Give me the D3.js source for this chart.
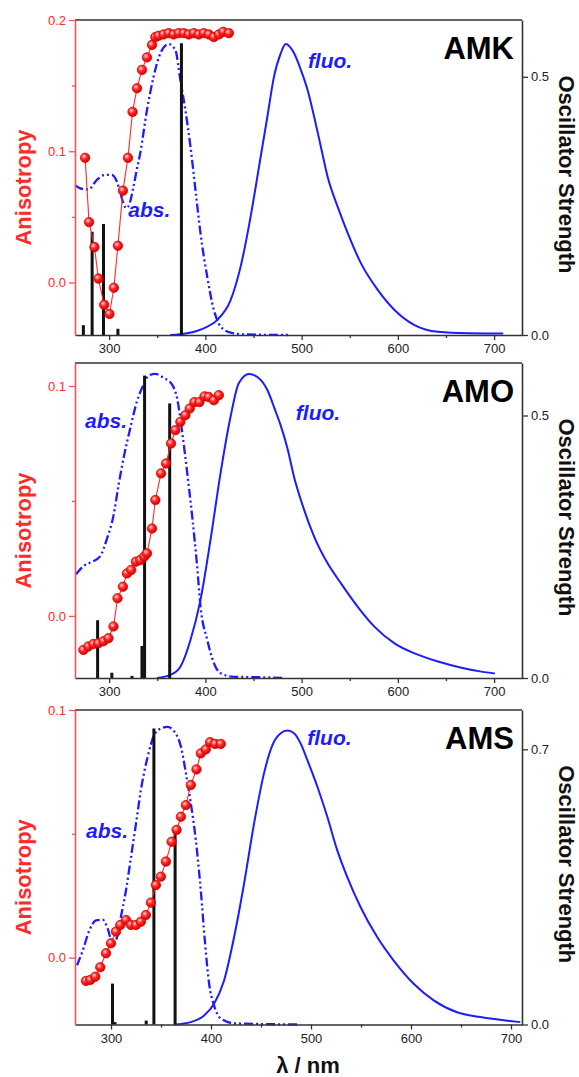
<!DOCTYPE html>
<html><head><meta charset="utf-8">
<script src="https://cdn.jsdelivr.net/npm/d3@7"></script>
<style>
body{margin:0;background:#fff}
svg{display:block}
text{font-family:"Liberation Sans",Arial,Helvetica,sans-serif}
</style>
</head><body>
<svg id="c" width="579" height="1077"></svg>
<script>
// ---------- DATA ----------
const xTicks = [300, 400, 500, 600, 700];
const xMinorTicks = [350, 450, 550, 650];
const panelNames = ["AMK", "AMO", "AMS"];

// anisotropy [nm, r]
const amkAniso = [[275.0,0.095],[279.1,0.046],[284.7,0.027],[288.8,0.003],[294.8,-0.017],[300.3,-0.024],[304.9,-0.004],[309.1,0.028],[314.3,0.070],[319.5,0.095],[324.3,0.130],[328.9,0.148],[334.1,0.162],[339.3,0.1715],[344.5,0.181],[348,0.187],[351.4,0.188],[356.6,0.189],[361.8,0.190],[367,0.189],[372.3,0.190],[377.5,0.190],[382.7,0.189],[387.9,0.190],[393.1,0.189],[398.3,0.190],[403.5,0.189],[408.8,0.187],[414,0.189],[418.5,0.191],[424.4,0.190]];
const amoAniso = [[273.2,-0.0148],[278.4,-0.0133],[283.6,-0.0122],[288.8,-0.0119],[294.1,-0.011],[299.3,-0.0097],[304.5,-0.0046],[308.7,0.0077],[314.3,0.0127],[318.5,0.0185],[322.9,0.020],[327.8,0.0236],[332.3,0.0243],[336.5,0.0258],[339.3,0.0272],[344.5,0.038],[348,0.0504],[353.9,0.062],[359.1,0.0663],[364.3,0.075],[368.8,0.0808],[374,0.0844],[379.2,0.0873],[383.7,0.0902],[388.6,0.093],[393.8,0.093],[399.1,0.0955],[403.5,0.0952],[408.8,0.0938],[414,0.096]];
const amsAniso = [[275,-0.0094],[279.3,-0.009],[284.3,-0.0077],[289.3,-0.0039],[295,0.0018],[300,0.0058],[305,0.0105],[309.3,0.0132],[315,0.0152],[320,0.0132],[325,0.0132],[329.9,0.0145],[334.9,0.0172],[339.9,0.0222],[344.9,0.0293],[349.9,0.0327],[354.9,0.0388],[360.6,0.0468],[365.6,0.0516],[369.9,0.0569],[374.9,0.0616],[379.8,0.0697],[385.5,0.076],[389.8,0.0825],[394.8,0.0841],[399.1,0.087],[404.1,0.0863],[409.8,0.0863]];

// normalized absorption [nm, I]
const amkAbs = [[264.5,0.515],[269.8,0.504],[278.4,0.50],[287.2,0.533],[295.8,0.55],[302.8,0.55],[308,0.527],[311.5,0.49],[314.6,0.455],[317.7,0.436],[321,0.45],[325.3,0.51],[328.5,0.565],[332.3,0.625],[339.3,0.773],[346.2,0.888],[353.2,0.968],[361.8,1.0],[368.8,0.979],[374,0.876],[379.2,0.773],[384.5,0.647],[389.7,0.498],[394.9,0.35],[401.9,0.2],[408.8,0.086],[415.7,0.03],[426.2,0.008],[439.7,0.002],[488.7,0]];
const amoAbs = [[265.6,0.341],[273.2,0.368],[282,0.382],[290.6,0.40],[297.6,0.457],[304.5,0.534],[309.7,0.633],[315.6,0.733],[321.9,0.821],[328.9,0.91],[335.8,0.965],[341,0.995],[348,1.0],[356.6,0.987],[365.4,0.965],[370.6,0.92],[375.8,0.81],[381,0.678],[386.2,0.534],[391.4,0.368],[394.9,0.236],[401.9,0.126],[408.8,0.049],[415.7,0.016],[429.6,0.004],[464.4,0.002],[481.4,0]];
const amsAbs = [[266,0.199],[271.8,0.249],[278.3,0.316],[285,0.35],[291.7,0.352],[296.7,0.322],[301.7,0.272],[306.7,0.30],[310,0.363],[315,0.451],[320,0.563],[325,0.675],[329.9,0.788],[336.6,0.899],[343.2,0.973],[349.9,0.995],[356.6,1.0],[363.2,0.985],[369.9,0.934],[374.9,0.845],[379.8,0.744],[384.8,0.62],[389.8,0.45],[393.8,0.284],[398.1,0.137],[402.5,0.07],[409.8,0.02],[423.1,0.004],[486.3,0]];

// normalized fluorescence [nm, I]
const amkFluo = [[363.6,0],[381,0.006],[398.3,0.023],[412.3,0.052],[426.2,0.12],[436.6,0.235],[447,0.407],[455.7,0.578],[464.4,0.75],[471.3,0.888],[478.3,0.968],[483.5,1.0],[492.2,0.968],[499.2,0.911],[506.2,0.842],[513,0.75],[520,0.647],[527,0.544],[537.4,0.441],[547.9,0.35],[561.7,0.246],[579.1,0.155],[596.5,0.086],[617.3,0.034],[641.7,0.011],[673,0.006],[709.5,0.005]];
const amoFluo = [[349.7,0],[363.6,0.01],[374,0.037],[384.5,0.125],[394.9,0.257],[405.3,0.454],[415.7,0.673],[426.2,0.86],[434.8,0.97],[445.3,1.0],[454,0.99],[464.4,0.947],[472,0.885],[478.3,0.83],[485.3,0.755],[492.2,0.66],[502.6,0.553],[513,0.465],[527,0.377],[540.9,0.311],[558.3,0.234],[575.6,0.169],[596.5,0.114],[617.3,0.081],[641.7,0.054],[666,0.034],[686.9,0.021],[700.7,0.015]];
const amsFluo = [[363.2,0],[379.8,0.008],[393.1,0.03],[403.1,0.07],[413.1,0.148],[423.1,0.294],[433.1,0.474],[443.1,0.676],[453,0.844],[461.4,0.939],[469.7,0.979],[476.4,0.988],[483,0.979],[489.6,0.945],[496.3,0.889],[506.3,0.8],[516.3,0.698],[526.2,0.586],[536.2,0.496],[549.5,0.395],[566.2,0.294],[582.7,0.215],[602.7,0.137],[622.7,0.081],[646,0.041],[669.3,0.025],[696,0.013],[709.3,0.008]];

// oscillator strengths [nm, f]
const amkBars = [[273.2,0.019],[282.3,0.2],[294.1,0.215],[309.1,0.012],[375.1,0.565]];
const amoBars = [[288,0.11],[302.8,0.01],[323.7,0.004],[334.1,0.061],[336.8,0.576],[362.9,0.523]];
const amsBars = [[301.5,0.104],[304,0.006],[335.2,0.01],[342.9,0.753],[364.1,0.503]];

// axis domains & ticks
const xDomains = [[264.5,729],[264.5,729],[264,711]];
const anisoDomains = [[-0.04,0.2],[-0.027,0.11],[-0.027,0.1]];
const anisoTicks = [[0,0.1,0.2],[0,0.1],[0,0.1]];
const anisoMinor = [[0.05,0.15],[0.05],[0.05]];
const oscDomains = [[0,0.61],[0,0.6],[0,0.8]];
const oscTicks = [[0,0.5],[0,0.5],[0,0.7]];
const intensityTop = [1.0825, 1.036, 1.057];
// label anchors in data units [nm, normalized intensity]
const absLabelAt = [[319.8,0.405],[275,0.822],[275,0.627]];
const fluoLabelAt = [[506.5,0.918],[494,0.849],[496.3,0.939]];

// ---------- LAYOUT ----------
const X0 = 75, X1 = 522;
const panelBox = [[20,335],[363,678],[710,1024.5]];
const RED = "#ff2a2a", BLUE = "#1c1cff", AX = "#333";

const anisoSets = [amkAniso, amoAniso, amsAniso];
const absSets = [amkAbs, amoAbs, amsAbs];
const fluoSets = [amkFluo, amoFluo, amsFluo];
const barSets = [amkBars, amoBars, amsBars];

const svg = d3.select("#c");
const defs = svg.append("defs");
const g0 = defs.append("radialGradient").attr("id","ball").attr("cx","38%").attr("cy","35%").attr("r","65%");
g0.append("stop").attr("offset","0%").attr("stop-color","#ffd6d6");
g0.append("stop").attr("offset","45%").attr("stop-color","#ff2a2a");
g0.append("stop").attr("offset","100%").attr("stop-color","#d40000");

panelNames.forEach((name, i) => {
  const [top, bottom] = panelBox[i];
  const x = d3.scaleLinear().domain(xDomains[i]).range([X0, X1]);
  const yA = d3.scaleLinear().domain(anisoDomains[i]).range([bottom, top]);
  const yO = d3.scaleLinear().domain(oscDomains[i]).range([bottom, top]);
  const yI = d3.scaleLinear().domain([0, intensityTop[i]]).range([bottom, top]);
  const g = svg.append("g");

  // absorption (dash-dot-dot)
  g.append("path").datum(absSets[i])
    .attr("d", d3.line().x(d=>x(d[0])).y(d=>yI(d[1])).curve(d3.curveMonotoneX))
    .attr("fill","none").attr("stroke",BLUE).attr("stroke-width",2.3)
    .attr("stroke-dasharray","9,3,2,3,2,3");
  // fluorescence
  g.append("path").datum(fluoSets[i])
    .attr("d", d3.line().x(d=>x(d[0])).y(d=>yI(d[1])).curve(d3.curveMonotoneX))
    .attr("fill","none").attr("stroke",BLUE).attr("stroke-width",2);
  // oscillator strength bars
  g.selectAll("rect.bar").data(barSets[i]).join("rect").attr("class","bar")
    .attr("x", d=>x(d[0])-1.5).attr("width",3)
    .attr("y", d=>yO(d[1])).attr("height", d=>yO(0)-yO(d[1]))
    .attr("fill","#111");
  // anisotropy
  g.append("path").datum(anisoSets[i])
    .attr("d", d3.line().x(d=>x(d[0])).y(d=>yA(d[1])))
    .attr("fill","none").attr("stroke",RED).attr("stroke-width",1.1);
  g.selectAll("circle").data(anisoSets[i]).join("circle")
    .attr("cx", d=>x(d[0])).attr("cy", d=>yA(d[1])).attr("r",4.7)
    .attr("fill","url(#ball)").attr("stroke","#e00000").attr("stroke-width",0.8);

  // frame: top
  g.append("line").attr("x1",X0).attr("x2",X1).attr("y1",top).attr("y2",top)
    .attr("stroke",AX).attr("stroke-width",1.6);

  // bottom axis
  const bx = g.append("g").attr("transform",`translate(0,${bottom})`)
    .call(d3.axisBottom(x).tickValues(xTicks).tickSize(5).tickSizeOuter(0).tickPadding(4).tickFormat(d3.format("d")));
  bx.select(".domain").attr("stroke",AX).attr("stroke-width",1.6);
  bx.selectAll(".tick line").attr("stroke",AX).attr("stroke-width",1.3);
  bx.selectAll(".tick text").attr("font-size",13).attr("fill","#222").attr("font-family","Liberation Sans, Arial, sans-serif");
  const bxm = g.append("g").attr("transform",`translate(0,${bottom})`)
    .call(d3.axisBottom(x).tickValues(xMinorTicks).tickSize(3).tickSizeOuter(0).tickFormat(""));
  bxm.select(".domain").remove();
  bxm.selectAll(".tick line").attr("stroke",AX).attr("stroke-width",1.3);

  // right axis
  const ry = g.append("g").attr("transform",`translate(${X1},0)`)
    .call(d3.axisRight(yO).tickValues(oscTicks[i]).tickSize(6).tickSizeOuter(0).tickPadding(3).tickFormat(d3.format(".1f")));
  ry.select(".domain").attr("stroke",AX).attr("stroke-width",1.6);
  ry.selectAll(".tick line").attr("stroke",AX).attr("stroke-width",1.3);
  ry.selectAll(".tick text").attr("font-size",13).attr("fill","#222").attr("font-family","Liberation Sans, Arial, sans-serif");

  // left axis (red)
  const ly = g.append("g").attr("transform",`translate(${X0},0)`)
    .call(d3.axisLeft(yA).tickValues(anisoTicks[i]).tickSize(6).tickSizeOuter(0).tickPadding(3).tickFormat(d3.format(".1f")));
  ly.select(".domain").attr("stroke","#ff5050").attr("stroke-width",1.6);
  ly.selectAll(".tick line").attr("stroke","#ff5050").attr("stroke-width",1.3);
  ly.selectAll(".tick text").attr("font-size",13).attr("fill",RED).attr("font-family","Liberation Sans, Arial, sans-serif");
  const lym = g.append("g").attr("transform",`translate(${X0},0)`)
    .call(d3.axisLeft(yA).tickValues(anisoMinor[i]).tickSize(3).tickSizeOuter(0).tickFormat(""));
  lym.select(".domain").remove();
  lym.selectAll(".tick line").attr("stroke","#ff5050").attr("stroke-width",1.3);

  // in-plot labels
  g.append("text").attr("x", x(absLabelAt[i][0])).attr("y", yI(absLabelAt[i][1]))
    .attr("font-size",21).attr("font-weight","bold").attr("font-style","italic").attr("fill",BLUE).text("abs.");
  g.append("text").attr("x", x(fluoLabelAt[i][0])).attr("y", yI(fluoLabelAt[i][1]))
    .attr("font-size",21).attr("font-weight","bold").attr("font-style","italic").attr("fill",BLUE).text("fluo.");
  g.append("text").attr("x", X1-8).attr("y", top+39).attr("text-anchor","end")
    .attr("font-size",31).attr("font-weight","bold").attr("fill","#000").text(name);

  // axis titles
  const mid = (top+bottom)/2;
  g.append("text").attr("transform",`translate(23,${mid+10}) rotate(-90)`)
    .attr("text-anchor","middle").attr("dominant-baseline","central")
    .attr("font-size",22).attr("font-weight","bold").attr("fill",RED).text("Anisotropy");
  g.append("text").attr("transform",`translate(566,${mid-3}) rotate(90)`)
    .attr("text-anchor","middle").attr("dominant-baseline","central")
    .attr("font-size",22).attr("font-weight","bold").attr("fill","#111").text("Oscillator Strength");
});

svg.append("text").attr("x",308).attr("y",1073).attr("text-anchor","middle")
  .attr("font-size",22).attr("font-weight","bold").attr("fill","#111").text("λ / nm");
</script>
</body></html>
